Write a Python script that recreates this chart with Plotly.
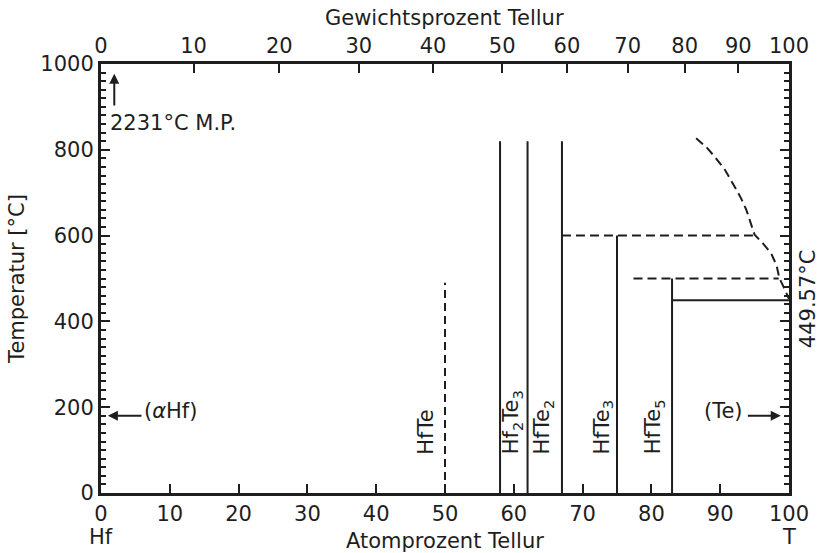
import plotly.graph_objects as go

# Phase diagram Hf–Te (atomic % Te on bottom, weight % Te on top)
M_HF = 178.49
M_TE = 127.6

# Vertical phase boundaries: composition (at.% Te), top temperature (°C)
solid_x = [58, 62, 67, 75, 83]
solid_top = [820, 820, 820, 600, 500]
dashed_x = [50]
dashed_top = [490]

# Horizontal invariants
h600_x = [67, 95.0]
h600_y = [600, 600]
h500_x = [77.4, 98.5]
h500_y = [500, 500]
te_melt_x = [83, 100.5]
te_melt_y = [449.57, 449.57]

# Liquidus (dashed) near Te side
liq_x = [86.5, 88.0, 89.2, 90.7, 92.1, 93.0, 93.8, 94.5, 95.0, 96.2, 97.4, 98.2, 98.6, 99.4, 100]
liq_y = [827, 806, 784, 753, 714, 688, 660, 628, 602, 582, 559, 530, 501, 474, 452]

# Compound labels
phase_labels = ["HfTe", "Hf<sub>2</sub>Te<sub>3</sub>", "HfTe<sub>2</sub>",
                "HfTe<sub>3</sub>", "HfTe<sub>5</sub>"]
phase_label_x = [47.2, 59.7, 64.3, 72.9, 80.4]

# Weight-percent scale on top
wt_ticks = [0, 10, 20, 30, 40, 50, 60, 70, 80, 90, 100]


def wt_to_at(w):
    if w >= 100:
        return 100.0
    n_te = w / M_TE
    n_hf = (100 - w) / M_HF
    return 100 * n_te / (n_te + n_hf)


wt_pos = [wt_to_at(w) for w in wt_ticks]

FONT = "DejaVu Sans"
FS = 21
BLACK = "#1e1e1e"

fig = go.Figure()

for x, top in zip(solid_x, solid_top):
    fig.add_trace(go.Scatter(x=[x, x], y=[0, top], mode="lines",
                             line=dict(color=BLACK, width=2), showlegend=False,
                             hoverinfo="skip"))
for x, top in zip(dashed_x, dashed_top):
    fig.add_trace(go.Scatter(x=[x, x], y=[0, top], mode="lines",
                             line=dict(color=BLACK, width=2, dash="8px,5px"),
                             showlegend=False, hoverinfo="skip"))

fig.add_trace(go.Scatter(x=h600_x, y=h600_y, mode="lines",
                         line=dict(color=BLACK, width=2, dash="9px,5px"),
                         showlegend=False, hoverinfo="skip"))
fig.add_trace(go.Scatter(x=h500_x, y=h500_y, mode="lines",
                         line=dict(color=BLACK, width=2, dash="9px,5px"),
                         showlegend=False, hoverinfo="skip"))
fig.add_trace(go.Scatter(x=te_melt_x, y=te_melt_y, mode="lines", cliponaxis=False,
                         line=dict(color=BLACK, width=2),
                         showlegend=False, hoverinfo="skip"))
fig.add_trace(go.Scatter(x=liq_x, y=liq_y, mode="lines",
                         line=dict(color=BLACK, width=2, dash="9px,5px"),
                         showlegend=False, hoverinfo="skip"))

# invisible trace to anchor the secondary axes
fig.add_trace(go.Scatter(x=[0, 100], y=[0, 1000], xaxis="x2", yaxis="y2",
                         mode="markers", marker=dict(opacity=0),
                         showlegend=False, hoverinfo="skip"))

ann = []
for txt, x in zip(phase_labels, phase_label_x):
    ann.append(dict(x=x, y=85, xref="x", yref="y", text=txt, textangle=-90,
                    showarrow=False, xanchor="center", yanchor="bottom",
                    font=dict(family=FONT, size=FS, color=BLACK)))

# melting point of Hf
ann.append(dict(x=1.93, y=977, ax=1.93, ay=900, xref="x", yref="y",
                axref="x", ayref="y", text="", showarrow=True,
                arrowhead=2, arrowsize=1, arrowwidth=2, arrowcolor=BLACK))
ann.append(dict(x=1.0, y=862, xref="x", yref="y", text="2231°C M.P.",
                showarrow=False, xanchor="left", yanchor="middle",
                font=dict(family=FONT, size=FS, color=BLACK)))
# (αHf)
ann.append(dict(x=1.0, y=180, ax=6.1, ay=180, xref="x", yref="y",
                axref="x", ayref="y", text="", showarrow=True,
                arrowhead=2, arrowsize=1, arrowwidth=2, arrowcolor=BLACK))
ann.append(dict(x=5.9, y=190, xref="x", yref="y", text="(<i>α</i>Hf)",
                showarrow=False, xanchor="left", yanchor="middle",
                font=dict(family=FONT, size=FS, color=BLACK)))
# (Te)
ann.append(dict(x=98.8, y=180, ax=93.8, ay=180, xref="x", yref="y",
                axref="x", ayref="y", text="", showarrow=True,
                arrowhead=2, arrowsize=1, arrowwidth=2, arrowcolor=BLACK))
ann.append(dict(x=93.6, y=190, xref="x", yref="y", text="(Te)",
                showarrow=False, xanchor="right", yanchor="middle",
                font=dict(family=FONT, size=FS, color=BLACK)))
# Te melting point
ann.append(dict(x=1.0275, y=0.454, xref="paper", yref="paper", text="449.57°C",
                textangle=-90, showarrow=False, xanchor="center", yanchor="middle",
                font=dict(family=FONT, size=FS, color=BLACK)))
# axis titles and end-member names
ann.append(dict(x=0.5, y=-0.113, xref="paper", yref="paper", text="Atomprozent Tellur",
                showarrow=False, xanchor="center", yanchor="middle",
                font=dict(family=FONT, size=FS, color=BLACK)))
ann.append(dict(x=0.499, y=1.107, xref="paper", yref="paper", text="Gewichtsprozent Tellur",
                showarrow=False, xanchor="center", yanchor="middle",
                font=dict(family=FONT, size=FS, color=BLACK)))
ann.append(dict(x=-0.123, y=0.5, xref="paper", yref="paper", text="Temperatur [°C]",
                textangle=-90, showarrow=False, xanchor="center", yanchor="middle",
                font=dict(family=FONT, size=FS, color=BLACK)))
ann.append(dict(x=0.0, y=-0.102, xref="paper", yref="paper", text="Hf",
                showarrow=False, xanchor="center", yanchor="middle",
                font=dict(family=FONT, size=FS, color=BLACK)))
ann.append(dict(x=1.0, y=-0.102, xref="paper", yref="paper", text="T",
                showarrow=False, xanchor="center", yanchor="middle",
                font=dict(family=FONT, size=FS, color=BLACK)))

tickfont = dict(family=FONT, size=FS, color=BLACK)

fig.update_layout(
    width=821, height=553,
    margin=dict(l=101, r=30, t=64, b=60),
    paper_bgcolor="white", plot_bgcolor="white",
    showlegend=False,
    annotations=ann,
    xaxis=dict(range=[0, 100], tickmode="array", tickvals=list(range(0, 101, 10)),
               ticks="inside", ticklen=9, tickwidth=2, tickcolor=BLACK,
               showline=True, linewidth=3, linecolor=BLACK, showgrid=False,
               zeroline=False, tickfont=tickfont, fixedrange=True),
    xaxis2=dict(range=[0, 100], overlaying="x", side="top", anchor="y",
                tickmode="array", tickvals=wt_pos, ticktext=[str(w) for w in wt_ticks],
                ticks="inside", ticklen=9, tickwidth=2, tickcolor=BLACK,
                showline=True, linewidth=3, linecolor=BLACK, showgrid=False,
                zeroline=False, tickfont=tickfont),
    yaxis=dict(range=[0, 1000], tickmode="array", tickvals=list(range(0, 1001, 200)),
               ticks="inside", ticklen=9, tickwidth=2, tickcolor=BLACK,
               minor=dict(dtick=20, ticks="inside", ticklen=5, tickwidth=1.5,
                          tickcolor=BLACK, showgrid=False),
               showline=True, linewidth=3, linecolor=BLACK, showgrid=False,
               zeroline=False, tickfont=tickfont),
    yaxis2=dict(range=[0, 1000], overlaying="y", side="right", anchor="x",
                tickmode="array", tickvals=list(range(0, 1001, 200)),
                ticks="inside", ticklen=9, tickwidth=2, tickcolor=BLACK,
                minor=dict(dtick=20, ticks="inside", ticklen=5, tickwidth=1.5,
                           tickcolor=BLACK, showgrid=False),
                showticklabels=False,
                showline=True, linewidth=3, linecolor=BLACK, showgrid=False,
                zeroline=False),
)

fig.write_html("out.html")
